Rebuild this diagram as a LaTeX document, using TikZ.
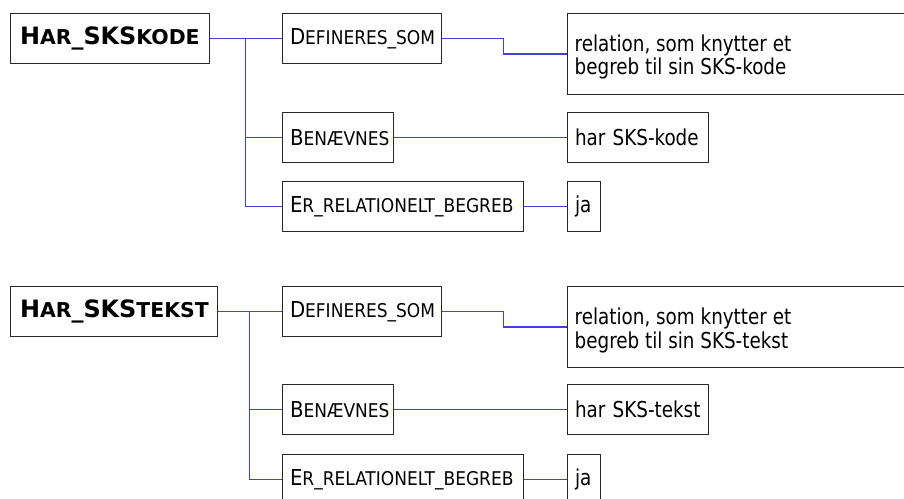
\documentclass[tikz,border=0pt]{standalone}
\usepackage{fontspec}
\setmainfont[FakeStretch=0.93]{DejaVu Sans Condensed}
\newfontfamily\capsfont{DejaVu Sans Condensed}
\newfontfamily\headfont{DejaVu Sans Bold}
\definecolor{linkblue}{RGB}{64,64,225}
\definecolor{boxline}{RGB}{40,40,40}
% faked small capitals: first part at full size, rest smaller
\newcommand\smc[2]{#1{\fontsize{19}{24}\selectfont #2}}
\newcommand\hsmc[2]{#1{\fontsize{20.5}{24}\selectfont #2}}
\tikzset{
  box/.style={draw=boxline, line width=1bp, anchor=west, inner xsep=8bp,
    inner ysep=0pt, minimum height=50bp, font=\fontsize{22}{24}\selectfont},
  capbox/.style={box, font=\capsfont\fontsize{22}{24}\selectfont},
  headbox/.style={box, font=\headfont\fontsize{24}{24}\selectfont, inner xsep=10bp},
  notebox/.style={box, minimum height=81bp},
  notetext/.style={anchor=west, inner sep=0pt, align=left,
    font=\fontsize{22}{24}\selectfont},
  link/.style={draw=linkblue, line width=1.5bp},
}
% a one-line label that is never wrapped
\newcommand\one[1]{\makebox[\linewidth][l]{#1}}
\begin{document}
\begin{tikzpicture}[x=1bp,y=-1bp]
\useasboundingbox (-0.5,-0.5) rectangle (903.5,498.5);
\clip (-0.5,-0.5) rectangle (903.5,498.5);

% ---- Har_SKSkode ----
\node[headbox, text width=179bp] (h1) at (9,38)
  {\one{\hsmc{H}{AR}\_SKS\hsmc{}{KODE}}};
\node[capbox, text width=143bp] (d1) at (281,38)
  {\one{\smc{D}{EFINERES\_SOM}}};
\node[notebox, text width=344bp] (r1) at (566,53.5) {};
\node[notetext] (r1t) at ([xshift=8bp,yshift=-3bp]r1.west)
  {relation, som knytter et\\begreb til sin SKS-kode};
\node[capbox, text width=95bp] (b1) at (281,137)
  {\one{\smc{B}{ENÆVNES}}};
\node[box, text width=125bp] (k1) at (566,137)
  {\one{har SKS-kode}};
\node[capbox, text width=225bp] (e1) at (281,206)
  {\one{\smc{E}{R\_RELATIONELT\_BEGREB}}};
\node[box, text width=17bp] (j1) at (566,206)
  {\one{ja}};

\coordinate (t1) at (245,38);
\coordinate (q1) at (503,38);
\draw[link] (h1.east) -- (t1) -- (d1.west);
\draw[link] (t1) |- (b1.west);
\draw[link] (t1) |- (e1.west);
\draw[link] (d1.east) -- (q1) |- (r1.west);
\draw[link] (b1.east) -- (k1.west);
\draw[link] (e1.east) -- (j1.west);

% ---- Har_SKStekst ----
\node[headbox, text width=187bp] (h2) at (9,311)
  {\one{\hsmc{H}{AR}\_SKS\hsmc{}{TEKST}}};
\node[capbox, text width=143bp] (d2) at (281,311)
  {\one{\smc{D}{EFINERES\_SOM}}};
\node[notebox, text width=344bp] (r2) at (566,326.5) {};
\node[notetext] (r2t) at ([xshift=8bp,yshift=-3bp]r2.west)
  {relation, som knytter et\\begreb til sin SKS-tekst};
\node[capbox, text width=95bp] (b2) at (281,409)
  {\one{\smc{B}{ENÆVNES}}};
\node[box, text width=125bp] (k2) at (566,409)
  {\one{har SKS-tekst}};
\node[capbox, text width=225bp] (e2) at (281,479)
  {\one{\smc{E}{R\_RELATIONELT\_BEGREB}}};
\node[box, text width=17bp] (j2) at (566,479)
  {\one{ja}};

\coordinate (t2) at (249,311);
\coordinate (q2) at (503,311);
\draw[link] (h2.east) -- (t2) -- (d2.west);
\draw[link] (t2) |- (b2.west);
\draw[link] (t2) |- (e2.west);
\draw[link] (d2.east) -- (q2) |- (r2.west);
\draw[link] (b2.east) -- (k2.west);
\draw[link] (e2.east) -- (j2.west);
\end{tikzpicture}
\end{document}
